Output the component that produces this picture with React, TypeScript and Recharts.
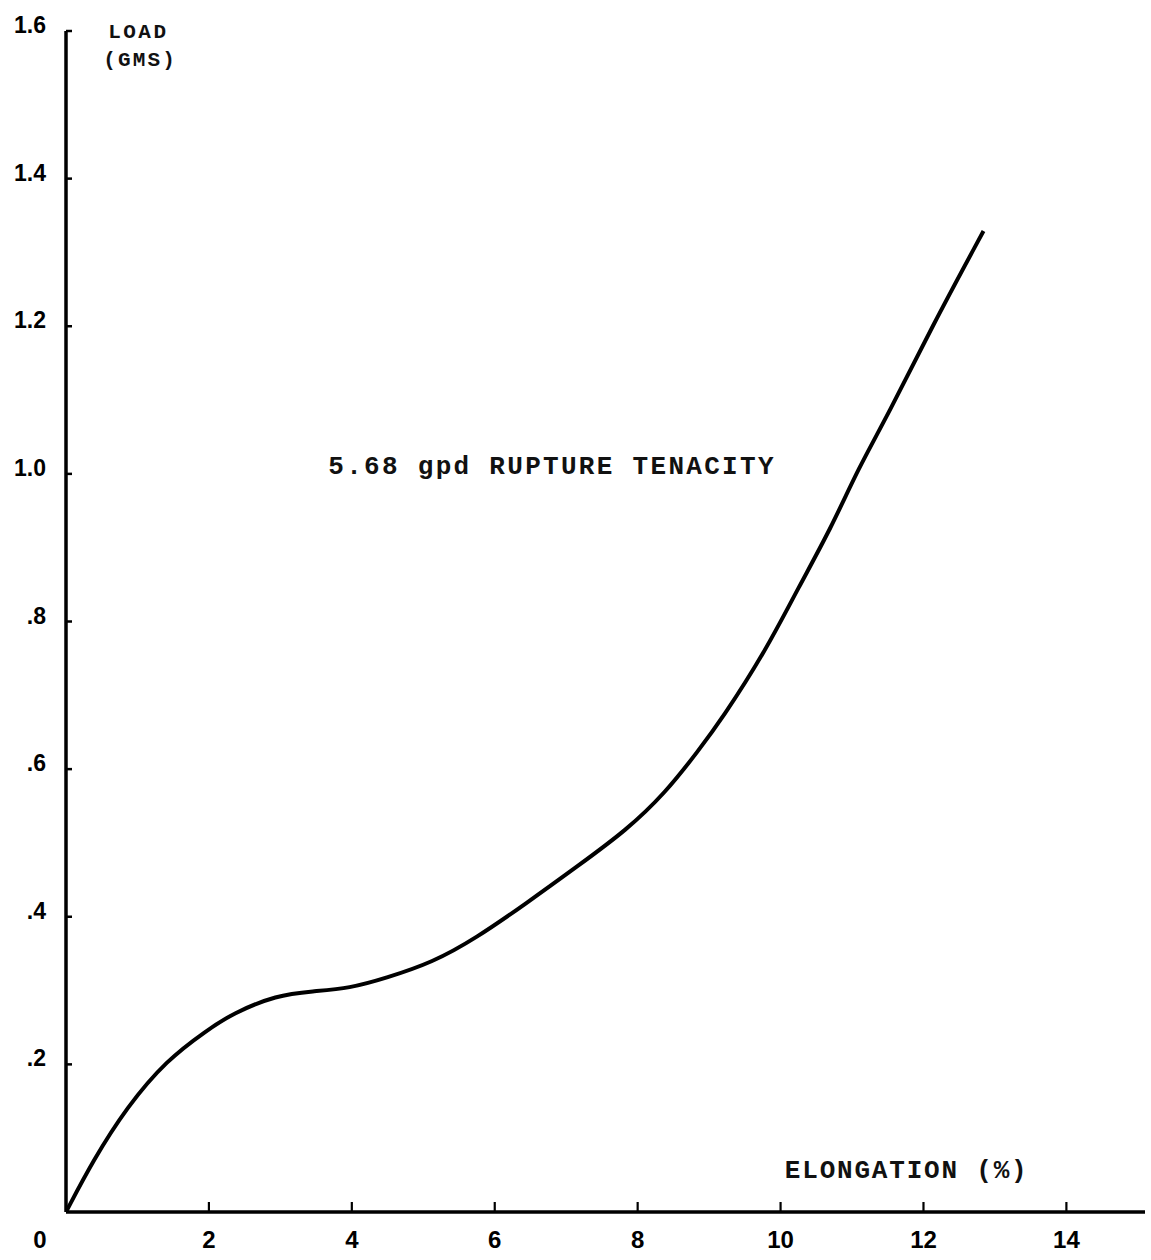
import React from "react";
import { LineChart, Line, XAxis, YAxis, ReferenceDot } from "recharts";

const elongation = [0, 0.38, 0.85, 1.41, 1.97, 2.33, 2.95, 3.45, 3.97, 4.48, 5.13, 5.74, 6.44, 7.18, 7.84, 8.39, 8.85, 9.18, 9.79, 10.25, 10.71, 11.09, 11.51, 12.11, 12.84];
const load = [0, 0.07, 0.142, 0.206, 0.246, 0.269, 0.294, 0.299, 0.303, 0.317, 0.338, 0.371, 0.418, 0.47, 0.517, 0.568, 0.625, 0.668, 0.76, 0.846, 0.927, 1.008, 1.081, 1.198, 1.329];
const xTicks = [0, 2, 4, 6, 8, 10, 12, 14];
const yTicks = [0.2, 0.4, 0.6, 0.8, 1.0, 1.2, 1.4, 1.6];
const yTickLabels = [".2", ".4", ".6", ".8", "1.0", "1.2", "1.4", "1.6"];

const data = elongation.map((x, i) => ({ x, y: load[i] }));

const tickFont = "'Liberation Sans', Arial, sans-serif";
const typeFont = "'Liberation Mono', 'Courier New', monospace";

const XTick = (props: any) => {
  const { x, y, payload } = props;
  const v = payload.value;
  return (
    <g>
      {v !== 0 && <line x1={x} x2={x} y1={y} y2={y - 10} stroke="#000" strokeWidth={2.2} />}
      <text x={v === 0 ? x - 26 : x} y={y + 36} textAnchor="middle" fontFamily={tickFont} fontWeight="bold" fontSize={24} fill="#000">
        {v}
      </text>
    </g>
  );
};

const YTick = (props: any) => {
  const { x, y, payload } = props;
  const idx = yTicks.findIndex((t) => Math.abs(t - payload.value) < 1e-6);
  const label = idx >= 0 ? yTickLabels[idx] : String(payload.value);
  return (
    <g>
      <line x1={x} x2={x + 6} y1={y} y2={y} stroke="#000" strokeWidth={2.5} />
      <text x={x - 20} y={y + 2} textAnchor="end" fontFamily={tickFont} fontWeight="bold" fontSize={23} fill="#000">
        {label}
      </text>
    </g>
  );
};

const makeLabel = (text: string, size: number, spacing: number) => (props: any) => {
  const vb = props.viewBox || {};
  const x = (vb.x || 0) + (vb.width || 0) / 2;
  const y = (vb.y || 0) + (vb.height || 0) / 2;
  return (
    <text x={x} y={y} textAnchor="start" fontFamily={typeFont} fontWeight="bold" fontSize={size} letterSpacing={spacing} fill="#111">
      {text}
    </text>
  );
};

export default function App() {
  return (
    <div style={{ position: "absolute", left: 0, top: 0, width: 1151, height: 1260, background: "#fff" }}>
      <LineChart width={1151} height={1260} data={data} margin={{ top: 31, right: 6, bottom: 0, left: 0 }}>
        <XAxis
          dataKey="x"
          type="number"
          domain={[0, 15.1]}
          ticks={xTicks}
          tick={<XTick />}
          tickLine={false}
          tickSize={0}
          tickMargin={0}
          height={48}
          axisLine={{ stroke: "#000", strokeWidth: 3.5 }}
          allowDataOverflow
        />
        <YAxis
          dataKey="y"
          type="number"
          domain={[0, 1.6]}
          ticks={yTicks}
          tick={<YTick />}
          tickLine={false}
          tickSize={0}
          tickMargin={0}
          width={66}
          axisLine={{ stroke: "#000", strokeWidth: 3.5 }}
          allowDataOverflow
        />
        <Line
          dataKey="y"
          type="basis"
          stroke="#000"
          strokeWidth={4}
          dot={false}
          isAnimationActive={false}
        />
        <ReferenceDot x={0.59} y={1.59} r={0} fill="none" stroke="none" label={makeLabel("LOAD", 21, 2.5)} />
        <ReferenceDot x={0.52} y={1.553} r={0} fill="none" stroke="none" label={makeLabel("(GMS)", 21, 2.2)} />
        <ReferenceDot x={3.67} y={1.0} r={0} fill="none" stroke="none" label={makeLabel("5.68 gpd RUPTURE TENACITY", 26, 2.3)} />
        <ReferenceDot x={10.06} y={0.046} r={0} fill="none" stroke="none" label={makeLabel("ELONGATION (%)", 26, 1.8)} />
      </LineChart>
    </div>
  );
}
